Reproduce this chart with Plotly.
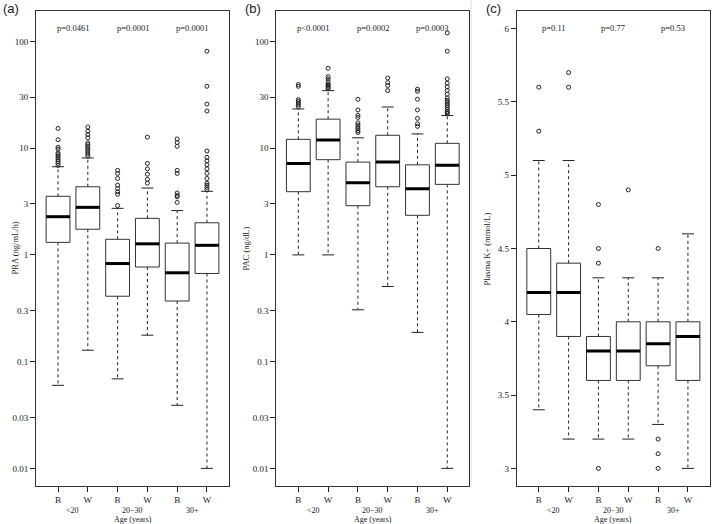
import plotly.graph_objects as go

# ---------------- data ----------------
positions = [1, 2, 3, 4, 5, 6]
race_labels = ["B", "W", "B", "W", "B", "W"]
age_groups = ["<20", "20−30", "30+"]
age_centers = [1.5, 3.5, 5.5]

log_ticks = [0.01, 0.03, 0.1, 0.3, 1, 3, 10, 30, 100]
log_tick_text = ["0.01", "0.03", "0.1", "0.3", "1", "3", "10", "30", "100"]
k_ticks = [3, 3.5, 4, 4.5, 5, 5.5, 6]
k_tick_text = ["3", "3.5", "4", "4.5", "5", "5.5", "6"]

# (a) PRA (ng/mL/h)
pra_q1 = [1.31, 1.74, 0.41, 0.77, 0.37, 0.67]
pra_med = [2.28, 2.79, 0.83, 1.27, 0.68, 1.23]
pra_q3 = [3.54, 4.35, 1.40, 2.20, 1.29, 2.00]
pra_lo = [0.06, 0.128, 0.069, 0.177, 0.039, 0.01]
pra_hi = [6.7, 8.1, 2.73, 4.23, 2.6, 3.94]
pra_out = [
    [6.9, 7.2, 7.5, 7.8, 8.1, 8.4, 8.7, 9.0, 9.8, 10.2, 12.0, 15.3],
    [8.4, 8.8, 9.2, 9.6, 10.0, 10.4, 10.8, 11.2, 12.5, 13.4, 14.4, 15.8],
    [2.9, 3.7, 3.9, 4.2, 4.5, 5.2, 5.8, 6.2],
    [4.7, 5.1, 5.7, 6.4, 7.2, 12.7],
    [3.1, 3.5, 3.6, 3.8, 5.8, 6.2, 10.4, 11.3, 12.2],
    [4.1, 4.3, 4.5, 4.7, 5.2, 5.8, 6.4, 7.0, 7.6, 8.2, 9.4, 22.3, 25.9, 38, 81],
]
pra_p = ["p=0.0461", "p=0.0001", "p=0.0001"]

# (b) PAC (ng/dL)
pac_q1 = [3.91, 7.8, 2.89, 4.35, 2.35, 4.58]
pac_med = [7.2, 11.9, 4.74, 7.4, 4.17, 6.9]
pac_q3 = [12.1, 18.7, 7.4, 13.2, 6.98, 11.1]
pac_lo = [1.0, 1.0, 0.306, 0.506, 0.188, 0.01]
pac_hi = [23.3, 34.6, 12.5, 24.3, 13.6, 20.2]
pac_out = [
    [24.5, 25.5, 26.5, 27.5, 28.5, 38.0, 39.5],
    [36, 37, 38, 39, 40, 42, 44.6, 46.8, 56],
    [14, 14.5, 15.2, 15.8, 16.5, 17.3, 19.4, 20.3, 22.8, 28.7],
    [34.6, 38.6, 41.1, 45.4],
    [16, 16.9, 19, 22.8, 28.7, 34.1, 35.7],
    [21, 21.5, 22, 23, 24, 25, 26, 27, 28, 29.5, 32, 34.6, 37.6, 40.5, 44.6, 81, 120],
]
pac_p = ["p<0.0001", "p=0.0002", "p=0.0003"]

# (c) Plasma K+ (mmol/L)
k_q1 = [4.05, 3.9, 3.6, 3.6, 3.7, 3.6]
k_med = [4.2, 4.2, 3.8, 3.8, 3.85, 3.9]
k_q3 = [4.5, 4.4, 3.9, 4.0, 4.0, 4.0]
k_lo = [3.4, 3.2, 3.2, 3.2, 3.3, 3.0]
k_hi = [5.1, 5.1, 4.3, 4.3, 4.3, 4.6]
k_out = [
    [5.3, 5.6],
    [5.6, 5.7],
    [3.0, 4.4, 4.5, 4.8],
    [4.9],
    [3.0, 3.1, 3.2, 4.5],
    [],
]
k_p = ["p=0.11", "p=0.77", "p=0.53"]

# ---------------- style ----------------
SERIF = "Liberation Serif"
SANS = "Liberation Sans"
INK = "#222222"
HW = 0.4   # half box width
CW = 0.2   # half staple width

W, H = 712, 524
top_px, bot_px = 11, 486
y_dom = [1 - bot_px / H, 1 - top_px / H]
x_doms = [
    [36 / W, 229 / W],
    [276.3 / W, 469.3 / W],
    [516.7 / W, 710 / W],
]

fig = go.Figure()


def add_panel(xa, ya, q1, med, q3, lo, hi, outs):
    bx, by, mx, my, wx, wy, cx, cy, ox, oy = [], [], [], [], [], [], [], [], [], []
    for p, a, m, b, l, h, o in zip(positions, q1, med, q3, lo, hi, outs):
        bx += [p - HW, p + HW, p + HW, p - HW, p - HW, None]
        by += [a, a, b, b, a, None]
        mx += [p - HW, p + HW, None]
        my += [m, m, None]
        wx += [p, p, None, p, p, None]
        wy += [b, h, None, a, l, None]
        cx += [p - CW, p + CW, None, p - CW, p + CW, None]
        cy += [h, h, None, l, l, None]
        ox += [p] * len(o)
        oy += list(o)
    common = dict(xaxis=xa, yaxis=ya, showlegend=False, hoverinfo="skip")
    fig.add_trace(go.Scatter(x=wx, y=wy, mode="lines",
                             line=dict(color=INK, width=1, dash="3px,3px"), **common))
    fig.add_trace(go.Scatter(x=cx, y=cy, mode="lines",
                             line=dict(color=INK, width=1), **common))
    fig.add_trace(go.Scatter(x=bx, y=by, mode="lines",
                             line=dict(color="#333333", width=1), **common))
    fig.add_trace(go.Scatter(x=mx, y=my, mode="lines",
                             line=dict(color="black", width=3), **common))
    fig.add_trace(go.Scatter(x=ox, y=oy, mode="markers",
                             marker=dict(symbol="circle-open", size=4,
                                         color=INK, line=dict(width=1)), **common))


add_panel("x", "y", pra_q1, pra_med, pra_q3, pra_lo, pra_hi, pra_out)
add_panel("x2", "y2", pac_q1, pac_med, pac_q3, pac_lo, pac_hi, pac_out)
add_panel("x3", "y3", k_q1, k_med, k_q3, k_lo, k_hi, k_out)

tickfont = dict(family=SERIF, size=9, color=INK)
xcommon = dict(range=[0.26, 6.74], tickmode="array", tickvals=positions,
               ticktext=race_labels, ticks="outside", ticklen=5, tickcolor=INK,
               showline=True, mirror=True, linecolor="#333333", linewidth=1,
               showgrid=False, zeroline=False, tickfont=tickfont, fixedrange=True)
ycommon = dict(ticks="outside", ticklen=5, tickcolor=INK, showline=True, mirror=True,
               linecolor="#333333", linewidth=1, showgrid=False, zeroline=False,
               tickfont=tickfont, domain=y_dom, tickmode="array", fixedrange=True)

fig.update_layout(
    width=W, height=H,
    margin=dict(l=0, r=0, t=0, b=0),
    paper_bgcolor="white", plot_bgcolor="white",
    showlegend=False,
    xaxis=dict(domain=x_doms[0], anchor="y", **xcommon),
    xaxis2=dict(domain=x_doms[1], anchor="y2", **xcommon),
    xaxis3=dict(domain=x_doms[2], anchor="y3", **xcommon),
    yaxis=dict(anchor="x", type="log", range=[-2.165, 2.285],
               tickvals=log_ticks, ticktext=log_tick_text, **ycommon),
    yaxis2=dict(anchor="x2", type="log", range=[-2.165, 2.285],
                tickvals=log_ticks, ticktext=log_tick_text, **ycommon),
    yaxis3=dict(anchor="x3", type="linear", range=[2.88, 6.12],
                tickvals=k_ticks, ticktext=k_tick_text, **ycommon),
)

annots = []
plot_h = bot_px - top_px
p_y = (bot_px - 28) / plot_h
grp_y = (bot_px - 510) / plot_h
age_y = (bot_px - 519) / plot_h
panel_info = [
    ("x", "y", pra_p, "PRA (ng/mL/h)", 14, "(a)", 11),
    ("x2", "y2", pac_p, "PAC (ng/dL)", 245, "(b)", 253),
    ("x3", "y3", k_p, "Plasma K+ (mmol/L)", 486, "(c)", 493),
]
for i, (xa, ya, pv, ytitle, ytx, lab, labx) in enumerate(panel_info):
    for xc, txt in zip(age_centers, pv):
        annots.append(dict(x=xc, xref=xa, y=p_y, yref=f"{ya} domain", text=txt,
                           showarrow=False, font=dict(family=SERIF, size=8.5, color="#222222"),
                           xanchor="center", yanchor="middle"))
    for xc, txt in zip(age_centers, age_groups):
        annots.append(dict(x=xc, xref=xa, y=grp_y, yref=f"{ya} domain", text=txt,
                           showarrow=False, font=dict(family=SERIF, size=8, color=INK),
                           xanchor="center", yanchor="middle"))
    annots.append(dict(x=3.5, xref=xa, y=age_y, yref=f"{ya} domain", text="Age (years)",
                       showarrow=False, font=dict(family=SERIF, size=8, color=INK),
                       xanchor="center", yanchor="middle"))
    dom = x_doms[i]
    xfrac = (ytx / W - dom[0]) / (dom[1] - dom[0])
    annots.append(dict(x=xfrac, xref=f"{xa} domain", y=0.5, yref=f"{ya} domain",
                       text=ytitle, textangle=-90, showarrow=False,
                       font=dict(family=SERIF, size=8.5, color=INK),
                       xanchor="center", yanchor="middle"))
    annots.append(dict(x=labx / W, xref="paper", y=1 - 8 / H, yref="paper", text=lab,
                       showarrow=False, font=dict(family=SANS, size=13, color=INK),
                       xanchor="center", yanchor="middle"))

fig.update_layout(annotations=annots)
fig.add_shape(type="line", xref="paper", yref="paper", x0=471 / W, x1=471 / W,
              y0=1, y1=1 - 487 / H, line=dict(color="#e0e0e0", width=1))

fig.write_html("out.html", config={"displayModeBar": False},
               post_script="document.body.style.margin='0';document.body.style.padding='0';")
